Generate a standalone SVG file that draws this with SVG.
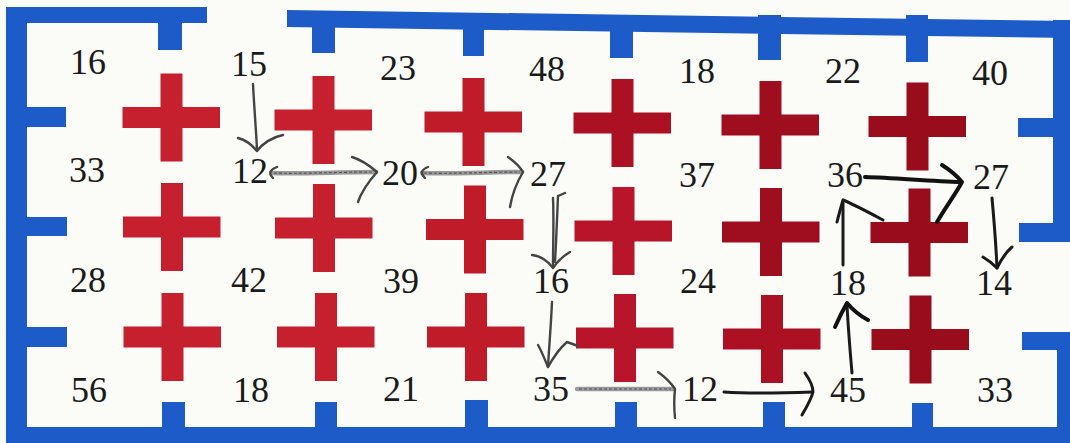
<svg xmlns="http://www.w3.org/2000/svg" width="1070" height="443" viewBox="0 0 1070 443">
<style>
.wall{fill:#1d5cc8}
.num{font-family:"Liberation Serif","Times New Roman",serif;font-size:36px;fill:#1a1a1a;text-anchor:middle}
.c1{fill:#c61f2d}
.c2{fill:#c01b29}
.c3{fill:#b8152a}
.c4{fill:#ab1122}
.c5{fill:#9f0e1f}
.c6{fill:#990c1c}
.pl{fill:none;stroke:#9a9a9a;stroke-width:4.5;stroke-linecap:round}
.pt{fill:none;stroke:#555;stroke-width:1.2;stroke-dasharray:3 2}
.pg{fill:none;stroke:#444;stroke-width:2.4;stroke-linecap:round;stroke-linejoin:round}
.pd{fill:none;stroke:#1a1a1a;stroke-width:3;stroke-linecap:round;stroke-linejoin:round}
.pk{fill:none;stroke:#111;stroke-width:4;stroke-linecap:round;stroke-linejoin:round}
</style>
<defs>
<path id="cross" d="M-11,-44 H11 V-10.5 H48.5 V10.5 H11 V44 H-11 V10.5 H-49 V-10.5 H-11 Z"/>
</defs>
<rect x="0" y="0" width="1070" height="443" fill="#fbfbf8"/>
<g id="walls" class="wall">
<rect x="6" y="7" width="201" height="16"/>
<rect x="158" y="7" width="24" height="43"/>
<rect x="6" y="7" width="21" height="436"/>
<rect x="6" y="107" width="60" height="20"/>
<rect x="6" y="217" width="61" height="19"/>
<rect x="6" y="327" width="61" height="20"/>
<polygon points="287,10 1070,21 1070,38 287,27"/>
<rect x="312" y="15" width="23" height="38"/>
<rect x="463" y="15" width="21" height="41"/>
<rect x="610" y="15" width="23" height="43"/>
<rect x="758" y="15" width="23" height="45"/>
<rect x="906" y="15" width="22" height="47"/>
<rect x="1053" y="20" width="17" height="222"/>
<rect x="1018" y="118" width="52" height="19"/>
<rect x="1019" y="223" width="51" height="19"/>
<rect x="1057" y="332" width="13" height="111"/>
<rect x="1022" y="332" width="48" height="18"/>
<rect x="6" y="427" width="1064" height="16"/>
<rect x="162" y="402" width="23" height="30"/>
<rect x="315" y="402" width="22" height="30"/>
<rect x="465" y="400" width="23" height="32"/>
<rect x="615" y="402" width="22" height="30"/>
<rect x="763" y="402" width="22" height="30"/>
<rect x="912" y="403" width="21" height="30"/>
</g>
<g id="crosses">
<use href="#cross" x="171.5" y="117.5" class="c1"/>
<use href="#cross" x="323.5" y="120" class="c1"/>
<use href="#cross" x="473.5" y="122" class="c2"/>
<use href="#cross" x="622.5" y="123" class="c4"/>
<use href="#cross" x="770.5" y="125" class="c5"/>
<use href="#cross" x="917.5" y="126.5" class="c6"/>
<use href="#cross" x="172" y="227" class="c1"/>
<use href="#cross" x="324" y="228" class="c1"/>
<use href="#cross" x="475" y="229.5" class="c2"/>
<use href="#cross" x="623.5" y="231" class="c3"/>
<use href="#cross" x="771" y="232" class="c5"/>
<use href="#cross" x="919.5" y="232.5" class="c6"/>
<use href="#cross" x="172.5" y="337" class="c1"/>
<use href="#cross" x="326" y="337" class="c1"/>
<use href="#cross" x="476" y="337" class="c2"/>
<use href="#cross" x="625" y="338" class="c3"/>
<use href="#cross" x="772" y="339" class="c4"/>
<use href="#cross" x="920.5" y="339.5" class="c6"/>
</g>
<g id="n-r1">
<text class="num" x="88" y="74">16</text>
<text class="num" x="249" y="76">15</text>
<text class="num" x="398" y="80">23</text>
<text class="num" x="547" y="81">48</text>
<text class="num" x="697" y="83">18</text>
<text class="num" x="843" y="83">22</text>
<text class="num" x="990" y="85">40</text>
</g>
<g id="n-r2">
<text class="num" x="87" y="182">33</text>
<text class="num" x="250" y="183">12</text>
<text class="num" x="400" y="185">20</text>
<text class="num" x="548" y="186">27</text>
<text class="num" x="697" y="187">37</text>
<text class="num" x="845" y="187">36</text>
<text class="num" x="991" y="189">27</text>
</g>
<g id="n-r3">
<text class="num" x="88" y="292">28</text>
<text class="num" x="249" y="292">42</text>
<text class="num" x="401" y="293">39</text>
<text class="num" x="551" y="293">16</text>
<text class="num" x="698" y="293">24</text>
<text class="num" x="848" y="295">18</text>
<text class="num" x="994" y="295">14</text>
</g>
<g id="n-r4">
<text class="num" x="89" y="402">56</text>
<text class="num" x="251" y="402">18</text>
<text class="num" x="401" y="401">21</text>
<text class="num" x="551" y="401">35</text>
<text class="num" x="700" y="401">12</text>
<text class="num" x="848" y="402">45</text>
<text class="num" x="995" y="402">33</text>
</g>
<g id="connectors">
<path class="pg" d="M253,84 C254,105 256,128 257,150"/>
<path class="pg" d="M238,138 C246,140 252,145 257,151 C262,144 272,137 283,135"/>
<path class="pl" d="M272,173 C300,174 340,172 376,172"/>
<path class="pt" d="M274,173 C300,174 340,172 374,172"/>
<path class="pg" d="M277,167 C270,170 268,173 273,178"/>
<path class="pg" d="M352,157 C362,160 370,166 377,172 C370,180 362,190 358,202"/>
<path class="pl" d="M422,173 C450,174 490,172 522,172"/>
<path class="pt" d="M424,173 C450,174 490,172 520,172"/>
<path class="pg" d="M428,167 C421,170 420,173 425,178"/>
<path class="pg" d="M508,157 C515,162 520,167 523,172 C517,182 512,195 510,207"/>
<path class="pg" d="M553,198 C554,220 553,245 553,267"/>
<path class="pg" d="M558,196 C557,220 556,245 555,262" stroke="#777" stroke-width="1.6"/>
<path class="pg" d="M558,196 L565,193" stroke-width="1.4"/>
<path class="pg" d="M532,255 C540,256 548,261 553,268 C557,262 563,256 570,252"/>
<path class="pg" d="M552,302 C551,325 549,348 548,367"/>
<path class="pg" d="M538,345 C542,352 545,360 548,367 C553,358 560,348 567,342 L578,346"/>
<path class="pl" d="M577,389 L673,389"/>
<path class="pt" d="M579,389 L671,389"/>
<path class="pg" d="M658,372 C665,377 671,383 675,389 C674,398 674,408 675,418"/>
<path class="pd" d="M724,392 C750,394 785,393 812,392" stroke-width="4"/>
<path class="pd" d="M805,373 C810,380 813,386 813,392 C811,400 806,408 802,415"/>
<path class="pd" d="M852,373 C850,350 848,325 847,305"/>
<path class="pk" d="M835,327 C839,318 843,310 847,303 C853,310 860,316 868,320"/>
<path class="pd" d="M843,265 L843,203"/>
<path class="pd" d="M837,222 C839,214 841,207 843,200 C855,205 868,212 883,220"/>
<path class="pk" d="M865,177 C895,178 930,181 961,182"/>
<path class="pk" d="M942,165 C950,170 957,176 962,182 C955,195 945,208 937,222"/>
<path class="pd" d="M992,198 C994,220 996,245 997,268"/>
<path class="pd" d="M983,257 C988,260 993,264 997,268 C1001,260 1006,252 1012,247"/>
</g>
</svg>
